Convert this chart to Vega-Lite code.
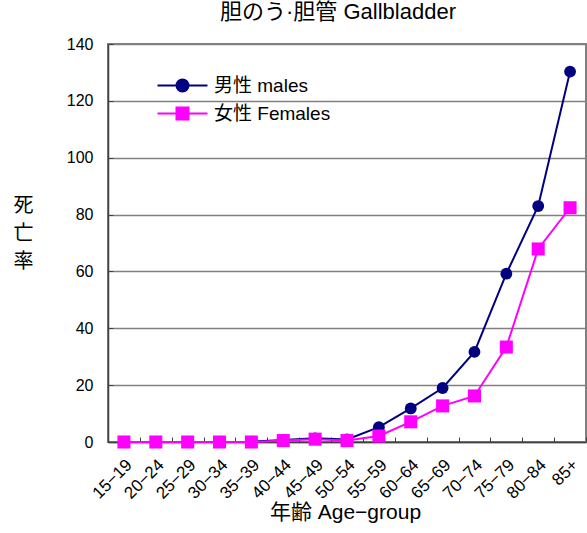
{
  "$schema": "https://vega.github.io/schema/vega-lite/v6.json",
  "width": 478,
  "height": 398,
  "autosize": {"type": "none"},
  "padding": {"left": 108, "top": 44, "right": 1, "bottom": 91},
  "background": "white",
  "config": {
    "font": "Liberation Sans, Noto Sans CJK JP, sans-serif",
    "view": {"stroke": "#808080", "strokeWidth": 2}
  },
  "title": {
    "text": "胆のう·胆管 Gallbladder",
    "fontSize": 22,
    "fontWeight": "normal",
    "font": "Liberation Sans, Noto Sans CJK JP, sans-serif",
    "anchor": "middle",
    "dx": -9,
    "offset": 12,
    "color": "#000"
  },
  "data": {
    "values": [
      {"age": "15-19", "sex": "男性 males", "rate": 0},
      {"age": "20-24", "sex": "男性 males", "rate": 0},
      {"age": "25-29", "sex": "男性 males", "rate": 0},
      {"age": "30-34", "sex": "男性 males", "rate": 0},
      {"age": "35-39", "sex": "男性 males", "rate": 0.1},
      {"age": "40-44", "sex": "男性 males", "rate": 0.7},
      {"age": "45-49", "sex": "男性 males", "rate": 1.3},
      {"age": "50-54", "sex": "男性 males", "rate": 0.9},
      {"age": "55-59", "sex": "男性 males", "rate": 5.2},
      {"age": "60-64", "sex": "男性 males", "rate": 11.8},
      {"age": "65-69", "sex": "男性 males", "rate": 19.0},
      {"age": "70-74", "sex": "男性 males", "rate": 31.7},
      {"age": "75-79", "sex": "男性 males", "rate": 59.2},
      {"age": "80-84", "sex": "男性 males", "rate": 83.0},
      {"age": "85+", "sex": "男性 males", "rate": 130.3},
      {"age": "15-19", "sex": "女性 Females", "rate": 0},
      {"age": "20-24", "sex": "女性 Females", "rate": 0},
      {"age": "25-29", "sex": "女性 Females", "rate": 0},
      {"age": "30-34", "sex": "女性 Females", "rate": 0},
      {"age": "35-39", "sex": "女性 Females", "rate": 0},
      {"age": "40-44", "sex": "女性 Females", "rate": 0.5},
      {"age": "45-49", "sex": "女性 Females", "rate": 1.0},
      {"age": "50-54", "sex": "女性 Females", "rate": 0.5},
      {"age": "55-59", "sex": "女性 Females", "rate": 2.1},
      {"age": "60-64", "sex": "女性 Females", "rate": 7.1},
      {"age": "65-69", "sex": "女性 Females", "rate": 12.7},
      {"age": "70-74", "sex": "女性 Females", "rate": 16.2},
      {"age": "75-79", "sex": "女性 Females", "rate": 33.4},
      {"age": "80-84", "sex": "女性 Females", "rate": 67.9},
      {"age": "85+", "sex": "女性 Females", "rate": 82.4}
    ]
  },
  "encoding": {
    "x": {
      "field": "age",
      "type": "ordinal",
      "sort": null,
      "scale": {"type": "band", "paddingInner": 0, "paddingOuter": 0},
      "axis": {
        "title": "年齢 Age−group",
        "titleFontSize": 21,
        "titleFontWeight": "normal",
        "titleColor": "#000",
        "titleX": 237,
        "titleY": 70,
        "titleAlign": "center",
        "titleBaseline": "middle",
        "labelAngle": -45,
        "labelAlign": "right",
        "labelBaseline": "middle",
        "labelFontSize": 17,
        "labelColor": "#000",
        "labelPadding": 25,
        "labelOffset": 5,
        "labelExpr": "replace(datum.label, '-', '−')",
        "tickBand": "extent",
        "tickSize": -5,
        "tickColor": "#404040",
        "tickWidth": 1,
        "domainColor": "#404040",
        "domainWidth": 1.5,
        "grid": false
      }
    },
    "y": {
      "field": "rate",
      "type": "quantitative",
      "scale": {"domain": [0, 140], "nice": false},
      "axis": {
        "values": [0, 20, 40, 60, 80, 100, 120, 140],
        "title": ["死", "亡", "率"],
        "titleFontSize": 20,
        "titleFontWeight": "normal",
        "titleColor": "#000",
        "titleAngle": 0,
        "titleAlign": "center",
        "titleBaseline": "middle",
        "titleLineHeight": 28,
        "titleX": -85,
        "titleY": 161,
        "labelFontSize": 16,
        "labelColor": "#000",
        "labelPadding": 20,
        "tickSize": -5,
        "tickColor": "#404040",
        "domainColor": "#404040",
        "domainWidth": 1.5,
        "grid": true,
        "gridColor": "#808080",
        "gridWidth": 1.5
      }
    },
    "color": {
      "field": "sex",
      "type": "nominal",
      "sort": ["男性 males", "女性 Females"],
      "scale": {"domain": ["男性 males", "女性 Females"], "range": ["#000080", "#ff00ff"]},
      "legend": {
        "title": null,
        "orient": "none",
        "legendX": 57,
        "legendY": 24,
        "padding": 0,
        "rowPadding": 0,
        "symbolSize": 1089,
        "labelOffset": 14,
        "labelFontSize": 19,
        "labelColor": "#000",
        "labelFont": "Liberation Sans, Noto Sans CJK JP, sans-serif",
        "encode": {
          "symbols": {
            "update": {
              "shape": {"signal": "datum.value === '男性 males' ? 'M-1.515,0L1.515,0M-0.364,0A0.364,0.364,0,1,1,0.364,0A0.364,0.364,0,1,1,-0.364,0Z' : 'M-1.515,0L1.515,0M-0.364,-0.364L0.364,-0.364L0.364,0.364L-0.364,0.364Z'"},
              "fill": {"signal": "datum.value === '男性 males' ? '#000080' : '#ff00ff'"},
              "stroke": {"signal": "datum.value === '男性 males' ? '#000080' : '#ff00ff'"},
              "strokeWidth": {"value": 2},
              "opacity": {"value": 1},
              "fillOpacity": {"value": 1}
            }
          }
        }
      }
    }
  },
  "layer": [
    {
      "mark": {"type": "line", "strokeWidth": 2}
    },
    {
      "transform": [{"filter": "datum.sex === '男性 males'"}],
      "mark": {"type": "point", "filled": true, "opacity": 1, "shape": "circle", "size": 140}
    },
    {
      "transform": [{"filter": "datum.sex === '女性 Females'"}],
      "mark": {"type": "point", "filled": true, "opacity": 1, "shape": "square", "size": 170}
    }
  ]
}
